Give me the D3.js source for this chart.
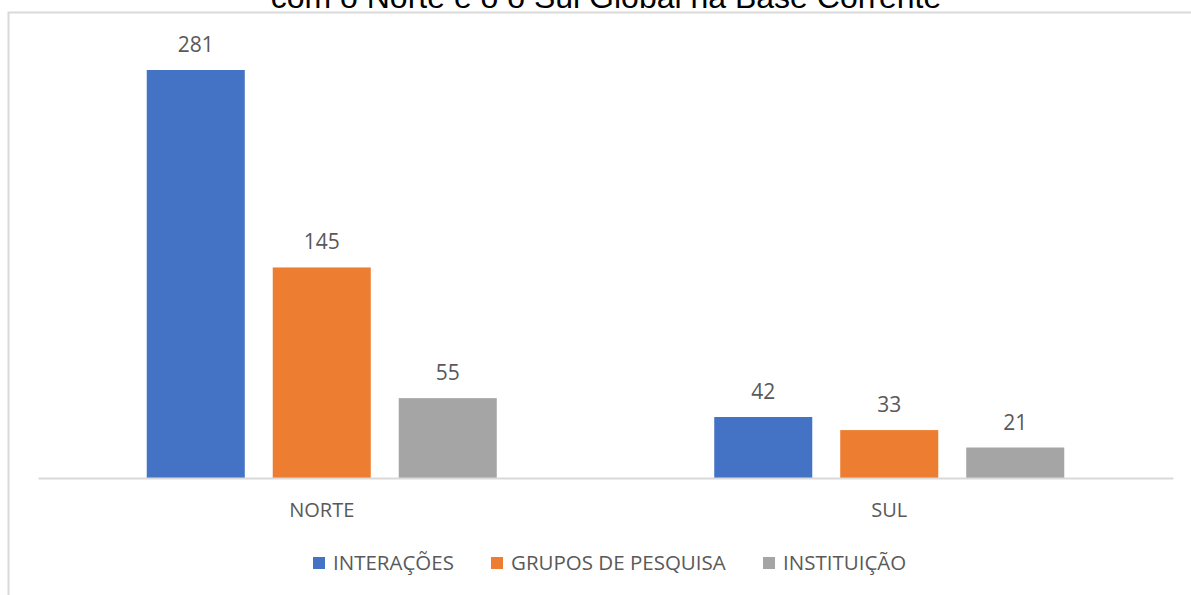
<!DOCTYPE html>
<html>
<head>
<meta charset="utf-8">
<script src="https://cdn.jsdelivr.net/npm/d3@7"></script>
<style>
  html, body { margin: 0; padding: 0; background: #fff; overflow: hidden; }
  svg { display: block; }
  .lbl { font-family: "Open Sans", "Noto Sans", sans-serif; fill: #595959; }
</style>
</head>
<body>
<div id="chart"></div>
<script>
(function () {
  "use strict";

  // Data
  const title = "com o Norte e o o Sul Global na Base Corrente";
  const regions = ["NORTE", "SUL"];
  const seriesNames = ["INTERAÇÕES", "GRUPOS DE PESQUISA", "INSTITUIÇÃO"];
  const interacoes = [281, 42];
  const grupos = [145, 33];
  const instituicao = [55, 21];
  const COLORS = ["#4472c4", "#ed7d31", "#a5a5a5"];

  const seriesValues = [interacoes, grupos, instituicao];
  const rows = [];
  regions.forEach((r, ri) => {
    seriesNames.forEach((s, si) => {
      rows.push({ region: r, series: s, si, value: seriesValues[si][ri] });
    });
  });

  // Dimensions
  const totalW = 1191;
  const totalH = 595;
  const plot = { left: 38, right: 1173, top: 70, bottom: 478 };

  const svg = d3.select("#chart")
    .append("svg")
    .attr("width", totalW)
    .attr("height", totalH);

  // Chart frame (runs off the right / bottom edge)
  svg.append("rect")
    .attr("x", 8.5)
    .attr("y", 12.5)
    .attr("width", 1250)
    .attr("height", 700)
    .attr("fill", "none")
    .attr("stroke", "#d9d9d9")
    .attr("stroke-width", 2);

  // Title, clipped at the top like the source
  svg.append("text")
    .attr("x", 606)
    .attr("y", 8)
    .attr("text-anchor", "middle")
    .style("font-family", "Arial, 'Liberation Sans', sans-serif")
    .style("font-size", "32px")
    .attr("fill", "#000")
    .text(title);

  // Scales
  const x0 = d3.scaleBand()
    .domain(regions)
    .range([plot.left, plot.right]);

  const x1 = d3.scaleBand()
    .domain(seriesNames)
    .range([0, x0.bandwidth()])
    .paddingInner(0.222)
    .paddingOuter(0.863);

  const y = d3.scaleLinear()
    .domain([0, 281])
    .range([plot.bottom, plot.top]);

  // Bars
  const groups = svg.selectAll(".grp")
    .data(regions)
    .join("g")
    .attr("class", "grp")
    .attr("transform", r => `translate(${x0(r)},0)`);

  groups.each(function (r) {
    const data = rows.filter(d => d.region === r);
    const g = d3.select(this);
    g.selectAll("rect")
      .data(data)
      .join("rect")
      .attr("x", d => x1(d.series))
      .attr("width", x1.bandwidth())
      .attr("y", d => y(d.value))
      .attr("height", d => y(0) - y(d.value))
      .attr("fill", d => COLORS[d.si]);

    g.selectAll("text")
      .data(data)
      .join("text")
      .attr("class", "lbl")
      .attr("x", d => x1(d.series) + x1.bandwidth() / 2)
      .attr("y", d => y(d.value) - 18)
      .attr("text-anchor", "middle")
      .style("font-size", "21px")
      .text(d => d.value);
  });

  // X axis
  const xAxis = svg.append("g")
    .attr("transform", `translate(0,${plot.bottom})`)
    .call(d3.axisBottom(x0).tickSize(0).tickPadding(0));
  xAxis.select(".domain").attr("stroke", "#d9d9d9").attr("stroke-width", 2);
  xAxis.selectAll(".tick text")
    .attr("class", "lbl")
    .attr("dy", null)
    .attr("y", 39)
    .attr("fill", "#595959")
    .style("font-size", "20px");

  // Legend
  const legendPos = [313, 491, 763];
  const legend = svg.append("g").attr("transform", "translate(0,557)");
  seriesNames.forEach((s, i) => {
    const it = legend.append("g").attr("transform", `translate(${legendPos[i]},0)`);
    it.append("rect")
      .attr("width", 12)
      .attr("height", 12)
      .attr("fill", COLORS[i]);
    it.append("text")
      .attr("class", "lbl")
      .attr("x", 20)
      .attr("y", 13)
      .style("font-size", "20.5px")
      .text(s);
  });
})();
</script>
</body>
</html>
